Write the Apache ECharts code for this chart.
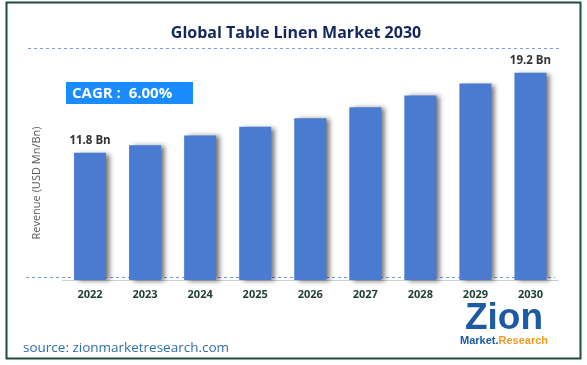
<!DOCTYPE html>
<html>
<head>
<meta charset="utf-8">
<script src="https://cdn.jsdelivr.net/npm/echarts@6/dist/echarts.min.js"></script>
<style>html,body{margin:0;padding:0;background:#fff;}#c{width:587px;height:365px;}</style>
</head>
<body>
<div id="c"></div>
<script>
var years = ['2022','2023','2024','2025','2026','2027','2028','2029','2030'];
var revenue = [11.8, 12.5, 13.4, 14.2, 15.0, 16.0, 17.1, 18.2, 19.2];
var valueLabels = ['11.8 Bn', '', '', '', '', '', '', '', '19.2 Bn'];
var titleText = 'Global Table Linen Market 2030';
var cagrText = 'CAGR :  6.00%';
var yAxisName = 'Revenue (USD Mn/Bn)';
var sourceText = 'source: zionmarketresearch.com';

var chart = echarts.init(document.getElementById('c'), null, {renderer: 'canvas'});
var font = '"Open Sans", "Noto Sans", sans-serif';

var barData = revenue.map(function (v, i) {
  return {
    value: v,
    label: {
      show: valueLabels[i] !== '',
      formatter: valueLabels[i]
    }
  };
});

chart.setOption({
  backgroundColor: '#ffffff',
  animation: false,
  grid: {left: 62.5, right: 29, top: 64.2, bottom: 85},
  xAxis: {
    type: 'category',
    data: years,
    axisLine: {show: true, lineStyle: {color: '#d0d0d0', width: 1}},
    axisTick: {show: false},
    axisLabel: {color: '#1e3d2f', fontWeight: 'bold', fontSize: 11, fontFamily: font, margin: 9}
  },
  yAxis: {
    type: 'value', min: 0, max: 20, show: false, splitLine: {show: false}
  },
  series: [{
    type: 'bar',
    data: barData,
    barWidth: 32,
    z: 3,
    itemStyle: {
      color: '#4a7bd0',
      shadowColor: 'rgba(0,0,0,0.55)',
      shadowBlur: 5,
      shadowOffsetX: 4,
      shadowOffsetY: 1
    },
    label: {
      position: 'top',
      distance: 6,
      color: '#333333',
      fontSize: 11.5,
      fontWeight: 'bold',
      fontFamily: font
    }
  }],
  graphic: [
    {type: 'rect', shape: {x: 6.5, y: 2.5, width: 574, height: 356},
      style: {fill: 'none', stroke: '#1e4d3c', lineWidth: 2}, silent: true},
    {type: 'text', x: 296, y: 33,
      style: {text: titleText, fill: '#14265c', font: 'bold 16px ' + font, textAlign: 'center', textVerticalAlign: 'middle'}},
    {type: 'line', shape: {x1: 28, y1: 48.5, x2: 559, y2: 48.5},
      style: {stroke: '#7d9ddb', lineWidth: 1, lineDash: [3, 3]}},
    {type: 'line', shape: {x1: 26, y1: 277.5, x2: 555, y2: 277.5},
      style: {stroke: '#6f95da', lineWidth: 1, lineDash: [3, 3]}},
    {type: 'rect', shape: {x: 66, y: 82, width: 127, height: 22},
      style: {fill: '#1a8cff'}},
    {type: 'text', x: 72, y: 93.5,
      style: {text: cagrText, fill: '#ffffff', font: 'bold 15px ' + font, textVerticalAlign: 'middle'}},
    {type: 'text', x: 37, y: 183, rotation: Math.PI / 2,
      style: {text: yAxisName, fill: '#595959', font: '11px ' + font, textAlign: 'center', textVerticalAlign: 'middle'}},
    {type: 'text', x: 23, y: 348,
      style: {text: sourceText, fill: '#2f6fa8', font: '13.5px ' + font, textVerticalAlign: 'middle'}},
    {type: 'text', x: 504, y: 319,
      style: {text: 'Zion', fill: '#1c5aa6', font: 'bold 37px "Liberation Sans", sans-serif', textAlign: 'center', textVerticalAlign: 'middle'}},
    {type: 'text', x: 504, y: 341,
      style: {
        text: '{a|Market.}{b|Research}',
        textAlign: 'center', textVerticalAlign: 'middle',
        rich: {
          a: {fill: '#1c5aa6', font: 'bold 11px "Liberation Sans", sans-serif'},
          b: {fill: '#f29a1f', font: 'bold 11px "Liberation Sans", sans-serif'}
        }
      }}
  ]
});
</script>
</body>
</html>
